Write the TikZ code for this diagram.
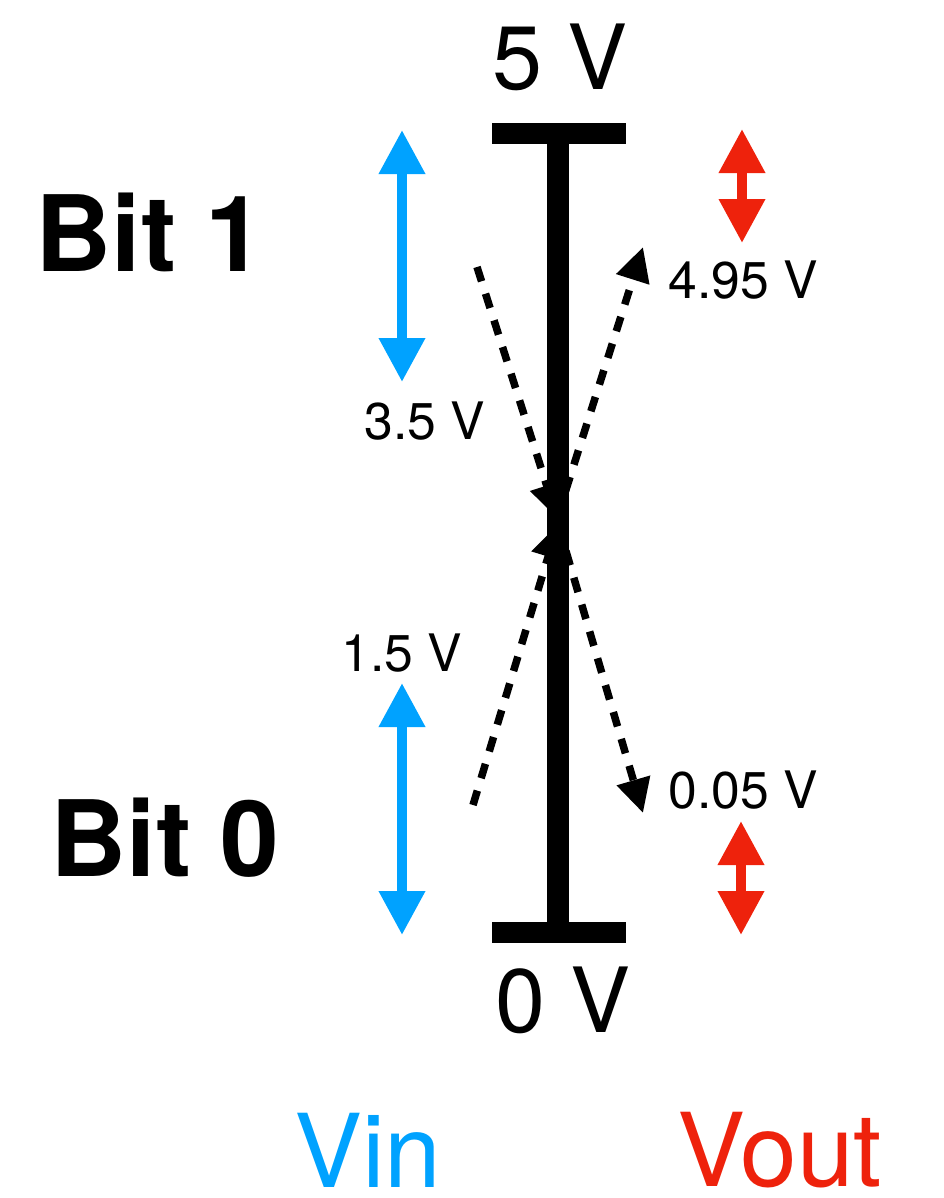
\documentclass[tikz,border=0pt]{standalone}
\usepackage{fontspec}
\setmainfont{TeX Gyre Heros}
\usepackage{tikz}
\usetikzlibrary{arrows.meta, positioning}
\usepackage{xcolor}
\definecolor{azul}{RGB}{0, 162, 255}
\definecolor{vermelho}{RGB}{238, 34, 12}
\tikzset{
  rotulo/.style={inner sep=0pt, font=\fontsize{14.7}{16}\selectfont},
  nivel/.style={inner sep=0pt, font=\fontsize{25.6}{28}\selectfont},
  bit/.style={inner sep=0pt, font=\fontsize{30}{33}\selectfont\bfseries},
  sinal/.style={inner sep=0pt, font=\fontsize{29}{32}\selectfont},
  faixa/.style={{Triangle[length=0.44cm, width=0.44cm]}-{Triangle[length=0.44cm, width=0.44cm]}, line width=0.10cm},
  salto/.style={-{Triangle[length=0.34cm, width=0.33cm]}, line width=0.075cm, dash pattern=on 0.15cm off 0.13cm},
}

\begin{document}
\begin{tikzpicture}[
    barra/.style={
        line width=0.21cm
    },
    eixo/.style={
        line width=0.22cm
    }
]

\useasboundingbox (0,0) rectangle (9.43,-11.98);

\coordinate (topo) at (5.58,-1.33);
\coordinate (base) at (5.58,-9.32);
\draw[barra] (4.92,-1.33) -- (6.26,-1.33);
\draw[barra] (4.92,-9.32) -- (6.26,-9.32);
\draw[eixo] (topo) -- (base);

\node[nivel] (cinco) at (5.60,-0.57) {5 V};
\node[nivel] (zero) at (5.63,-10.00) {0 V};

\node[bit] (bit1) at (1.50,-2.32) {Bit 1};
\node[bit] (bit0) at (1.65,-8.38) {Bit 0};

\coordinate (vin1a) at (4.02,-1.30);
\coordinate (vin1b) at (4.02,-3.82);
\coordinate (vin0a) at (4.02,-6.83);
\coordinate (vin0b) at (4.02,-9.35);
\draw[faixa, azul] (vin1a) -- (vin1b);
\draw[faixa, azul] (vin0a) -- (vin0b);

\coordinate (vout1a) at (7.42,-1.29);
\coordinate (vout1b) at (7.42,-2.43);
\coordinate (vout0a) at (7.41,-8.21);
\coordinate (vout0b) at (7.41,-9.35);
\draw[faixa, vermelho] (vout1a) -- (vout1b);
\draw[faixa, vermelho] (vout0a) -- (vout0b);

\node[rotulo] (in35) at (4.25,-4.21) {3.5 V};
\node[rotulo] (in15) at (4.02,-6.53) {1.5 V};
\node[rotulo] (out495) at (7.43,-2.80) {4.95 V};
\node[rotulo] (out005) at (7.43,-7.90) {0.05 V};

\coordinate (alto) at (4.77,-2.67);
\coordinate (baixo) at (4.73,-8.05);
\coordinate (meio1) at (5.57,-5.18);
\coordinate (meio0) at (5.58,-5.24);
\coordinate (saida1) at (6.43,-2.47);
\coordinate (saida0) at (6.43,-8.13);
\draw[salto] (alto) -- (meio1);
\draw[salto] (meio1) -- (saida1);
\draw[salto] (baixo) -- (meio0);
\draw[salto] (meio0) -- (saida0);

\node[sinal, text=azul] (vin) at (3.68,-11.50) {Vin};
\node[sinal, text=vermelho] (vout) at (7.80,-11.50) {Vout};

\end{tikzpicture}
\end{document}
